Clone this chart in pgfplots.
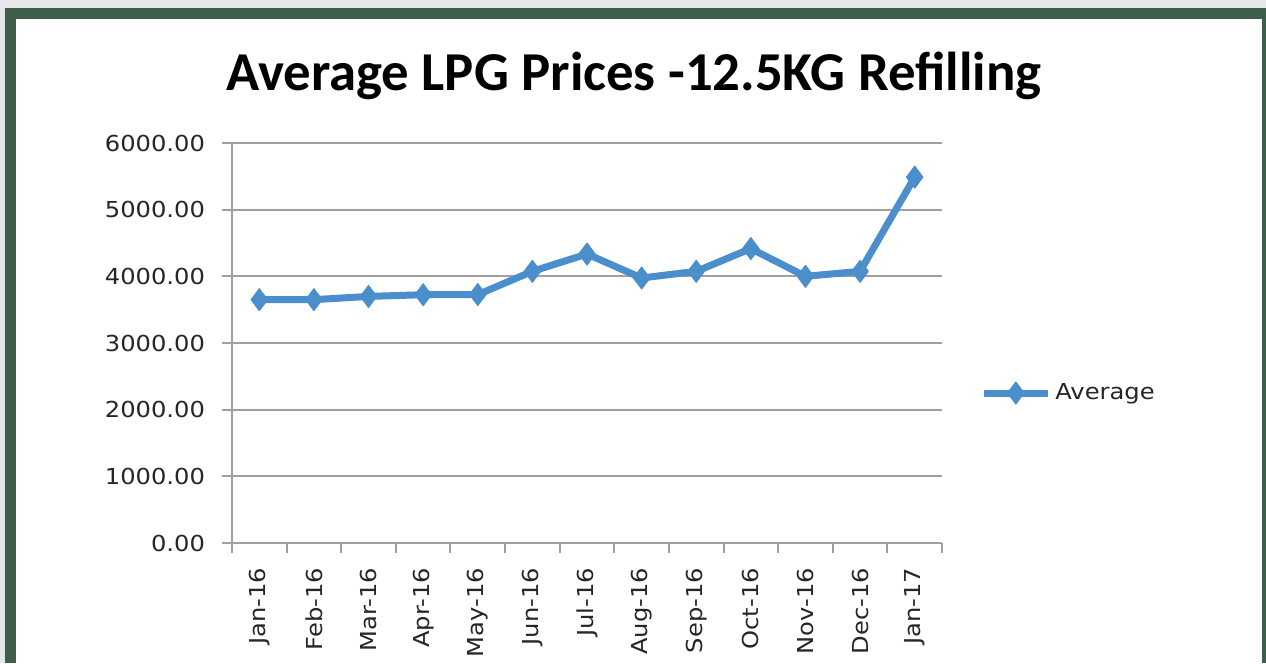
\documentclass[border=0pt]{standalone}
\usepackage{fontspec}
\setmainfont{Carlito}
\newfontfamily\tickfont[FakeStretch=1.1]{DejaVu Sans}
\usepackage{pgfplots}
\pgfplotsset{compat=1.18}
\definecolor{lineblue}{RGB}{74,142,204}
\definecolor{framegreen}{RGB}{62,94,74}
\definecolor{outergrey}{RGB}{230,231,233}
\definecolor{gridc}{RGB}{160,160,160}
\begin{document}
\begin{tikzpicture}
\fill[outergrey] (0,0) rectangle (633bp,331.5bp);
\fill[framegreen] (2.5bp,0) rectangle (633bp,327.5bp);
\fill[white] (8bp,0) rectangle (631bp,322bp);
\node[anchor=base, font=\bfseries\fontsize{27.4bp}{30bp}\selectfont] at (317bp,286.5bp) {Average LPG Prices -12.5KG Refilling};
\begin{axis}[
  at={(116bp,60bp)}, anchor=south west,
  scale only axis, width=355bp, height=200bp,
  xmin=-0.5, xmax=12.5, ymin=0, ymax=6000,
  axis x line*=bottom, axis y line*=left,
  axis line style={gridc, line width=1bp, -},
  ytick={0,1000,2000,3000,4000,5000,6000},
  ymajorgrids, grid style={gridc, line width=1bp},
  xtick={-0.5,0.5,1.5,2.5,3.5,4.5,5.5,6.5,7.5,8.5,9.5,10.5,11.5,12.5},
  x tick label as interval,
  xticklabels={Jan-16,Feb-16,Mar-16,Apr-16,May-16,Jun-16,Jul-16,Aug-16,Sep-16,Oct-16,Nov-16,Dec-16,Jan-17},
  tick align=outside, major tick length=5bp,
  tick style={gridc, line width=1bp},
  tick label style={font=\tickfont\fontsize{11bp}{13bp}\selectfont, text=black!85},
  xticklabel style={rotate=90, anchor=east},
  xticklabel shift=4bp,
  yticklabel shift=5bp,
  yticklabel style={/pgf/number format/.cd, fixed, fixed zerofill, precision=2, 1000 sep={}, assume math mode=true},
  legend style={at={(1.045,0.375)}, anchor=west, draw=none, fill=none,
    font=\tickfont\fontsize{11bp}{13bp}\selectfont, text=black!85},
  legend cell align=left,
  legend image code/.code={\draw[mark repeat=2, mark phase=2, #1] plot coordinates {(0bp,0bp) (16bp,0bp) (32bp,0bp)};},
]
\addplot[lineblue, line width=3.5bp, line join=round, mark=diamond*, mark size=5.5bp, mark options={solid, line width=0.5bp}]
  coordinates {(0,3650) (1,3650) (2,3699) (3,3724) (4,3726) (5,4075) (6,4335) (7,3975) (8,4075) (9,4416) (10,4000) (11,4075) (12,5489)};
\addlegendentry{Average}
\end{axis}
\end{tikzpicture}
\end{document}
